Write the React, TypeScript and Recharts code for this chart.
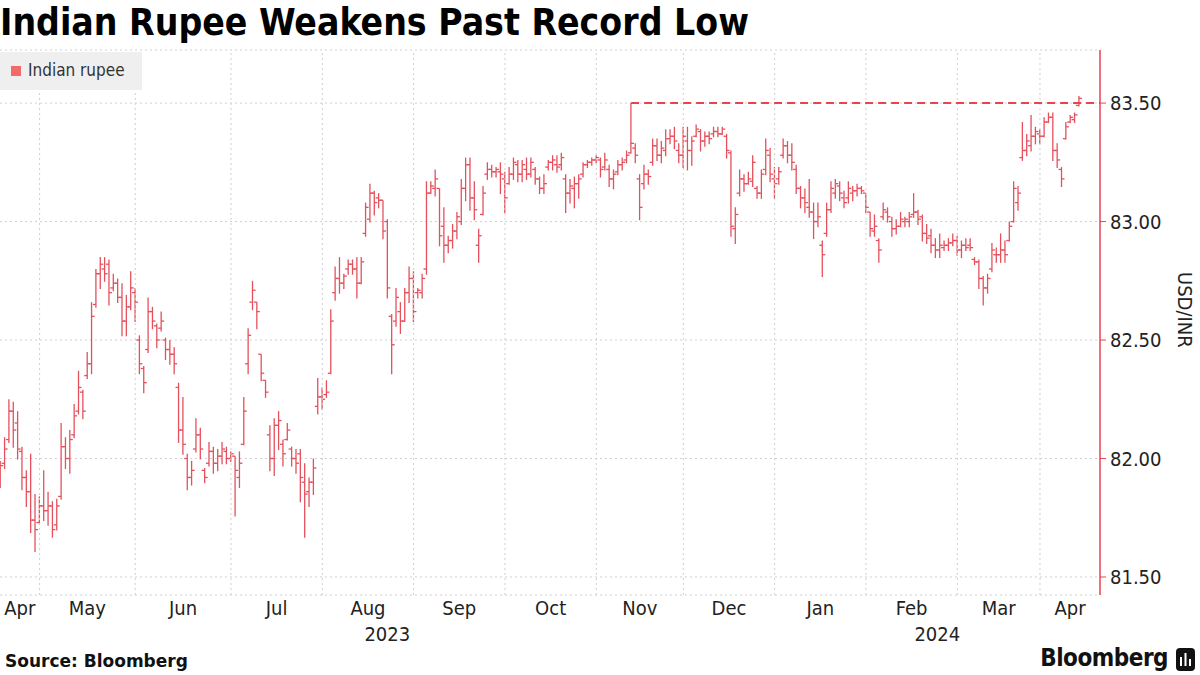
import React from 'react';
import { ComposedChart, Bar, XAxis, YAxis, CartesianGrid, ReferenceLine } from 'recharts';

type Ohlc = [number, number, number, number]; // open, high, low, close

const apr23: Ohlc[] = [
  [81.92, 81.99, 81.88, 81.97], [81.98, 82.09, 81.96, 82.04], [82.08, 82.25, 82.07, 82.2],
  [82.2, 82.24, 82.05, 82.12], [82.15, 82.2, 82.0, 82.04], [82.03, 82.05, 81.87, 81.92],
  [81.92, 81.95, 81.8, 81.86], [81.86, 82.02, 81.69, 81.74], [81.74, 81.85, 81.61, 81.7],
];
const may23: Ohlc[] = [
  [81.73, 81.84, 81.73, 81.8], [81.8, 81.95, 81.74, 81.78], [81.78, 81.86, 81.72, 81.8],
  [81.8, 81.82, 81.67, 81.7], [81.72, 81.83, 81.7, 81.8], [81.84, 82.15, 81.83, 82.05],
  [82.05, 82.09, 81.96, 82.0], [82.0, 82.12, 81.94, 82.08], [82.1, 82.23, 82.09, 82.18],
  [82.2, 82.37, 82.19, 82.3], [82.28, 82.29, 82.17, 82.2], [82.35, 82.45, 82.34, 82.4],
  [82.4, 82.66, 82.36, 82.6], [82.65, 82.8, 82.64, 82.78], [82.78, 82.85, 82.72, 82.82],
  [82.8, 82.85, 82.75, 82.78], [82.82, 82.84, 82.65, 82.7], [82.72, 82.78, 82.71, 82.74],
  [82.74, 82.76, 82.66, 82.68], [82.68, 82.74, 82.52, 82.58], [82.58, 82.69, 82.52, 82.64],
  [82.64, 82.79, 82.63, 82.72],
];
const jun23: Ohlc[] = [
  [82.7, 82.72, 82.58, 82.66], [82.5, 82.52, 82.36, 82.4], [82.38, 82.39, 82.28, 82.32],
  [82.46, 82.68, 82.45, 82.62], [82.62, 82.64, 82.55, 82.58], [82.56, 82.57, 82.47, 82.5],
  [82.55, 82.62, 82.54, 82.58], [82.5, 82.51, 82.42, 82.46], [82.46, 82.5, 82.4, 82.44],
  [82.44, 82.47, 82.36, 82.4], [82.3, 82.32, 82.07, 82.12], [82.12, 82.26, 82.02, 82.06],
  [82.0, 82.02, 81.87, 81.92], [81.92, 81.99, 81.89, 81.95], [82.04, 82.17, 82.03, 82.1],
  [82.1, 82.13, 82.0, 82.04], [81.95, 81.96, 81.9, 81.92], [81.98, 82.07, 81.97, 82.03],
  [82.03, 82.05, 81.94, 81.98], [81.98, 82.04, 81.95, 82.01], [82.01, 82.07, 81.98, 82.04],
  [82.03, 82.05, 81.98, 82.0],
];
const jul23: Ohlc[] = [
  [82.0, 82.03, 81.99, 82.02], [82.01, 82.01, 81.76, 81.95], [81.92, 82.03, 81.88, 81.98],
  [82.06, 82.26, 82.06, 82.2], [82.4, 82.55, 82.36, 82.52], [82.66, 82.75, 82.63, 82.71],
  [82.66, 82.66, 82.55, 82.62], [82.44, 82.44, 82.33, 82.36], [82.33, 82.33, 82.26, 82.28],
  [82.1, 82.14, 81.95, 82.0], [82.0, 82.17, 81.93, 82.14], [82.14, 82.2, 82.04, 82.16],
  [82.06, 82.08, 81.97, 82.02], [82.08, 82.15, 82.08, 82.12], [82.04, 82.05, 81.97, 82.0],
  [82.0, 82.04, 81.94, 81.98], [82.02, 82.04, 81.82, 81.92], [81.9, 81.98, 81.67, 81.85],
  [81.86, 81.92, 81.8, 81.9], [81.9, 82.0, 81.85, 81.96], [82.22, 82.34, 82.19, 82.26],
];
const aug23: Ohlc[] = [
  [82.26, 82.3, 82.21, 82.25], [82.27, 82.33, 82.26, 82.28], [82.36, 82.63, 82.36, 82.58],
  [82.7, 82.81, 82.67, 82.76], [82.76, 82.85, 82.7, 82.74], [82.74, 82.78, 82.72, 82.77],
  [82.8, 82.84, 82.78, 82.82], [82.82, 82.84, 82.78, 82.8], [82.8, 82.85, 82.68, 82.74],
  [82.74, 82.85, 82.74, 82.83], [82.95, 83.08, 82.94, 83.06], [83.01, 83.16, 83.0, 83.12],
  [83.12, 83.13, 83.03, 83.08], [83.1, 83.12, 83.06, 83.09], [83.09, 83.09, 82.93, 82.96],
  [83.0, 83.01, 82.68, 82.72], [82.6, 82.61, 82.36, 82.48], [82.58, 82.72, 82.56, 82.68],
  [82.62, 82.66, 82.53, 82.58], [82.58, 82.72, 82.58, 82.7], [82.7, 82.81, 82.66, 82.76],
];
const sep23: Ohlc[] = [
  [82.76, 82.79, 82.58, 82.62], [82.7, 82.72, 82.68, 82.71], [82.7, 82.78, 82.68, 82.76],
  [82.8, 83.17, 82.78, 83.12], [83.12, 83.17, 83.12, 83.15], [83.14, 83.22, 83.11, 83.18],
  [83.14, 83.14, 82.9, 82.94], [82.98, 83.06, 82.83, 82.9], [82.9, 82.94, 82.87, 82.92],
  [82.92, 82.99, 82.89, 82.96], [82.96, 83.04, 82.93, 83.02], [83.0, 83.18, 82.99, 83.14],
  [83.14, 83.27, 83.09, 83.24], [83.24, 83.27, 83.05, 83.1], [83.1, 83.17, 83.01, 83.05],
  [82.9, 82.97, 82.83, 82.94], [83.03, 83.15, 83.03, 83.12], [83.2, 83.25, 83.18, 83.22],
  [83.22, 83.24, 83.19, 83.21], [83.21, 83.23, 83.19, 83.22], [83.21, 83.25, 83.12, 83.2],
];
const oct23: Ohlc[] = [
  [83.18, 83.21, 83.04, 83.1], [83.16, 83.23, 83.16, 83.2], [83.2, 83.27, 83.18, 83.25],
  [83.24, 83.26, 83.17, 83.2], [83.2, 83.26, 83.17, 83.24], [83.22, 83.27, 83.18, 83.2],
  [83.2, 83.27, 83.19, 83.25], [83.22, 83.23, 83.16, 83.18], [83.18, 83.19, 83.12, 83.14],
  [83.14, 83.2, 83.12, 83.16], [83.23, 83.26, 83.22, 83.25], [83.25, 83.28, 83.22, 83.26],
  [83.24, 83.28, 83.21, 83.23], [83.24, 83.29, 83.22, 83.27], [83.18, 83.2, 83.04, 83.12],
  [83.12, 83.18, 83.08, 83.15], [83.14, 83.19, 83.06, 83.16], [83.16, 83.2, 83.1, 83.18],
  [83.2, 83.25, 83.19, 83.24], [83.24, 83.26, 83.23, 83.25], [83.25, 83.27, 83.24, 83.26],
];
const nov23: Ohlc[] = [
  [83.26, 83.28, 83.25, 83.27], [83.26, 83.27, 83.19, 83.22], [83.23, 83.29, 83.22, 83.26],
  [83.22, 83.24, 83.15, 83.18], [83.18, 83.22, 83.14, 83.2], [83.21, 83.26, 83.2, 83.24],
  [83.24, 83.27, 83.22, 83.25], [83.26, 83.3, 83.25, 83.28], [83.29, 83.5, 83.29, 83.33],
  [83.31, 83.33, 83.25, 83.28], [83.18, 83.2, 83.01, 83.06], [83.16, 83.24, 83.14, 83.2],
  [83.2, 83.22, 83.16, 83.19], [83.25, 83.35, 83.24, 83.32], [83.32, 83.35, 83.26, 83.28],
  [83.28, 83.34, 83.25, 83.31], [83.3, 83.39, 83.28, 83.35], [83.35, 83.39, 83.33, 83.36],
  [83.36, 83.4, 83.31, 83.34], [83.3, 83.33, 83.25, 83.28],
];
const dec23: Ohlc[] = [
  [83.28, 83.4, 83.23, 83.36], [83.34, 83.4, 83.22, 83.3], [83.3, 83.36, 83.24, 83.34],
  [83.36, 83.41, 83.36, 83.39], [83.38, 83.39, 83.3, 83.34], [83.34, 83.38, 83.32, 83.36],
  [83.36, 83.38, 83.33, 83.35], [83.37, 83.4, 83.36, 83.38], [83.38, 83.4, 83.36, 83.37],
  [83.37, 83.4, 83.37, 83.39], [83.36, 83.37, 83.27, 83.3], [83.29, 83.3, 82.94, 82.98],
  [82.97, 83.06, 82.91, 83.03], [83.12, 83.22, 83.11, 83.18], [83.18, 83.2, 83.13, 83.16],
  [83.16, 83.21, 83.16, 83.18], [83.17, 83.28, 83.15, 83.25], [83.14, 83.15, 83.1, 83.12],
  [83.12, 83.22, 83.1, 83.2], [83.22, 83.35, 83.2, 83.3], [83.28, 83.31, 83.17, 83.2],
];
const jan24: Ohlc[] = [
  [83.18, 83.23, 83.1, 83.16], [83.18, 83.23, 83.16, 83.21], [83.28, 83.35, 83.27, 83.32],
  [83.32, 83.34, 83.25, 83.28], [83.28, 83.33, 83.22, 83.25], [83.22, 83.24, 83.12, 83.14],
  [83.14, 83.15, 83.06, 83.1], [83.1, 83.14, 83.04, 83.08], [83.06, 83.18, 83.02, 83.04],
  [83.04, 83.08, 82.93, 83.0], [83.0, 83.08, 82.98, 83.02], [82.9, 82.92, 82.77, 82.86],
  [82.95, 83.08, 82.94, 83.05], [83.05, 83.17, 83.04, 83.14], [83.12, 83.18, 83.1, 83.16],
  [83.15, 83.17, 83.09, 83.12], [83.1, 83.13, 83.06, 83.08], [83.1, 83.17, 83.08, 83.14],
  [83.12, 83.15, 83.09, 83.13], [83.13, 83.16, 83.11, 83.14], [83.14, 83.15, 83.12, 83.13],
];
const feb24: Ohlc[] = [
  [83.12, 83.12, 83.04, 83.06], [83.04, 83.04, 82.94, 82.97], [82.96, 83.03, 82.94, 82.98],
  [82.92, 82.93, 82.83, 82.88], [83.02, 83.08, 83.01, 83.05], [83.04, 83.06, 83.0, 83.02],
  [83.0, 83.02, 82.94, 82.97], [82.97, 83.01, 82.95, 82.98], [82.98, 83.04, 82.98, 83.01],
  [83.0, 83.02, 82.98, 83.01], [83.0, 83.04, 82.98, 83.02], [83.03, 83.12, 83.02, 83.04],
  [83.04, 83.05, 82.99, 83.01], [83.02, 83.03, 82.92, 82.95], [82.95, 82.99, 82.91, 82.93],
  [82.94, 82.97, 82.87, 82.9], [82.9, 82.93, 82.85, 82.88], [82.88, 82.95, 82.85, 82.9],
  [82.89, 82.92, 82.88, 82.9], [82.9, 82.93, 82.88, 82.91], [82.91, 82.95, 82.9, 82.92],
];
const mar24: Ohlc[] = [
  [82.92, 82.94, 82.86, 82.88], [82.88, 82.92, 82.85, 82.9], [82.9, 82.93, 82.88, 82.89],
  [82.9, 82.93, 82.88, 82.89], [82.84, 82.85, 82.82, 82.83], [82.83, 82.84, 82.72, 82.76],
  [82.76, 82.77, 82.65, 82.72], [82.72, 82.78, 82.7, 82.76], [82.8, 82.91, 82.79, 82.88],
  [82.86, 82.89, 82.83, 82.86], [82.86, 82.95, 82.83, 82.88], [82.88, 82.92, 82.83, 82.86],
  [82.92, 83.0, 82.92, 82.98], [83.0, 83.17, 83.0, 83.14], [83.08, 83.15, 83.05, 83.12],
  [83.27, 83.42, 83.26, 83.3], [83.3, 83.37, 83.28, 83.34], [83.32, 83.45, 83.3, 83.36],
  [83.36, 83.4, 83.33, 83.38],
];
const apr24: Ohlc[] = [
  [83.37, 83.39, 83.33, 83.36], [83.36, 83.44, 83.36, 83.42], [83.42, 83.46, 83.42, 83.44],
  [83.44, 83.46, 83.26, 83.3], [83.3, 83.33, 83.23, 83.26], [83.22, 83.23, 83.15, 83.18],
  [83.35, 83.42, 83.35, 83.4], [83.42, 83.45, 83.42, 83.44], [83.43, 83.46, 83.42, 83.45],
  [83.49, 83.53, 83.49, 83.52],
];

const monthLabels = ['Apr', 'May', 'Jun', 'Jul', 'Aug', 'Sep', 'Oct', 'Nov', 'Dec', 'Jan', 'Feb', 'Mar', 'Apr'];
const yearLabels = ['2023', '2024'];
const yTicks = [81.5, 82, 82.5, 83, 83.5];

const months = [apr23, may23, jun23, jul23, aug23, sep23, oct23, nov23, dec23, jan24, feb24, mar24, apr24];

const FONT = '"DejaVu Sans Condensed", "DejaVu Sans", sans-serif';
const BAR = '#e4505c';
const RED = '#e8434f';

const rows = months.flat().map(([o, h, l, c], i) => ({ i, o, h, l, c, range: [l, h] }));

const monthStarts: number[] = [];
let count = 0;
months.forEach((m) => {
  monthStarts.push(count);
  count += m.length;
});

const xMin = -0.1;
const xMax = count - 1 + 4.8;

const bounds = [xMin, ...monthStarts.slice(1), xMax];
const monthTicks = monthLabels.map((_, k) => (bounds[k] + bounds[k + 1]) / 2);
const janStart = monthStarts[9];
const yearTicks = [(xMin + janStart) / 2, (janStart + xMax) / 2];

// the old record: highest high before this April
const before = rows.slice(0, monthStarts[12]);
const recordHigh = Math.max(...before.map((r) => r.h));
const recordIdx = before.findIndex((r) => r.h === recordHigh);

const OhlcBar = (props: any) => {
  const { x, y, width, height, payload } = props;
  if (payload == null || height == null) return null;
  const top = Math.min(y, y + height);
  const bottom = Math.max(y, y + height);
  const cx = x + width / 2;
  const span = payload.h - payload.l || 1;
  const yo = top + ((payload.h - payload.o) / span) * (bottom - top);
  const yc = top + ((payload.h - payload.c) / span) * (bottom - top);
  return (
    <g stroke={BAR} strokeWidth={1.3}>
      <line x1={cx} x2={cx} y1={top} y2={bottom + 1} />
      <line x1={cx - 3} x2={cx} y1={yo} y2={yo} />
      <line x1={cx} x2={cx + 3} y1={yc} y2={yc} />
    </g>
  );
};

const App: React.FC = () => {
  return (
    <div style={{ position: 'relative', width: 1200, height: 675, background: '#fff', fontFamily: FONT, overflow: 'hidden' }}>
      <style>{'body{margin:0}'}</style>

      <div style={{ position: 'absolute', left: 0, top: 0, fontSize: 37, fontWeight: 'bold', color: '#000', lineHeight: '46px', whiteSpace: 'nowrap' }}>
        Indian Rupee Weakens Past Record Low
      </div>

      <ComposedChart
        width={1200}
        height={675}
        data={rows}
        margin={{ top: 50, right: 0, bottom: 25, left: 0 }}
        style={{ position: 'absolute', left: 0, top: 0 }}
      >
        <CartesianGrid vertical={false} stroke="#cfcfcf" strokeDasharray="2 3" />
        <XAxis
          dataKey="i"
          type="number"
          domain={[xMin, xMax]}
          allowDataOverflow
          ticks={monthTicks}
          interval={0}
          tickFormatter={(_v: number, k: number) => monthLabels[k]}
          axisLine={false}
          tickLine={false}
          tickSize={6}
          tickMargin={0}
          height={30}
          tick={{ fontSize: 20, fill: '#222', fontFamily: FONT }}
        />
        <XAxis
          xAxisId="year"
          dataKey="i"
          type="number"
          domain={[xMin, xMax]}
          allowDataOverflow
          ticks={yearTicks}
          interval={0}
          tickFormatter={(_v: number, k: number) => yearLabels[k]}
          axisLine={false}
          tickLine={false}
          tickSize={0}
          tickMargin={2}
          height={25}
          tick={{ fontSize: 20, fill: '#222', fontFamily: FONT }}
        />
        <YAxis
          orientation="right"
          domain={[81.424, 83.724]}
          allowDataOverflow
          ticks={yTicks}
          interval={0}
          width={100}
          tickFormatter={(v: number) => v.toFixed(2)}
          axisLine={{ stroke: RED, strokeWidth: 1.5 }}
          tickLine={{ stroke: RED }}
          tickSize={6}
          tickMargin={4}
          tick={{ fontSize: 20, fill: '#222', fontFamily: FONT }}
        />
        {monthStarts.slice(1).map((s) => (
          <ReferenceLine key={s} x={s} stroke="#cfcfcf" strokeDasharray="2 3" />
        ))}
        <Bar dataKey="range" barSize={5} shape={OhlcBar} isAnimationActive={false} />
        <ReferenceLine
          segment={[{ x: recordIdx, y: recordHigh }, { x: xMax, y: recordHigh }]}
          stroke={RED}
          strokeWidth={2}
          strokeDasharray="8 5"
        />
      </ComposedChart>

      <div style={{ position: 'absolute', left: 0, top: 52, width: 142, height: 38, background: '#efefef' }}>
        <div style={{ position: 'absolute', left: 11, top: 14, width: 10, height: 10, background: '#f26a6a' }} />
        <div style={{ position: 'absolute', left: 28, top: 8, fontSize: 17, color: '#333', whiteSpace: 'nowrap' }}>Indian rupee</div>
      </div>

      <div style={{ position: 'absolute', left: 1173, top: 272, fontSize: 20, color: '#222', writingMode: 'vertical-rl', whiteSpace: 'nowrap' }}>
        USD/INR
      </div>

      <div style={{ position: 'absolute', left: 5, top: 651, fontSize: 17, fontWeight: 'bold', color: '#111', fontFamily: '"DejaVu Sans", sans-serif' }}>
        Source: Bloomberg
      </div>

      <div style={{ position: 'absolute', right: 32, top: 644, fontSize: 24, fontWeight: 'bold', color: '#111', letterSpacing: -0.5 }}>
        Bloomberg
      </div>
      <svg style={{ position: 'absolute', left: 1176, top: 648 }} width={20} height={24}>
        <rect x={0} y={0} width={19} height={23} rx={4} fill="#111" />
        <rect x={4} y={9} width={2} height={9} fill="#fff" />
        <rect x={8.5} y={5} width={2} height={13} fill="#fff" />
        <rect x={13} y={11} width={2} height={7} fill="#fff" />
      </svg>
    </div>
  );
};

export default App;
